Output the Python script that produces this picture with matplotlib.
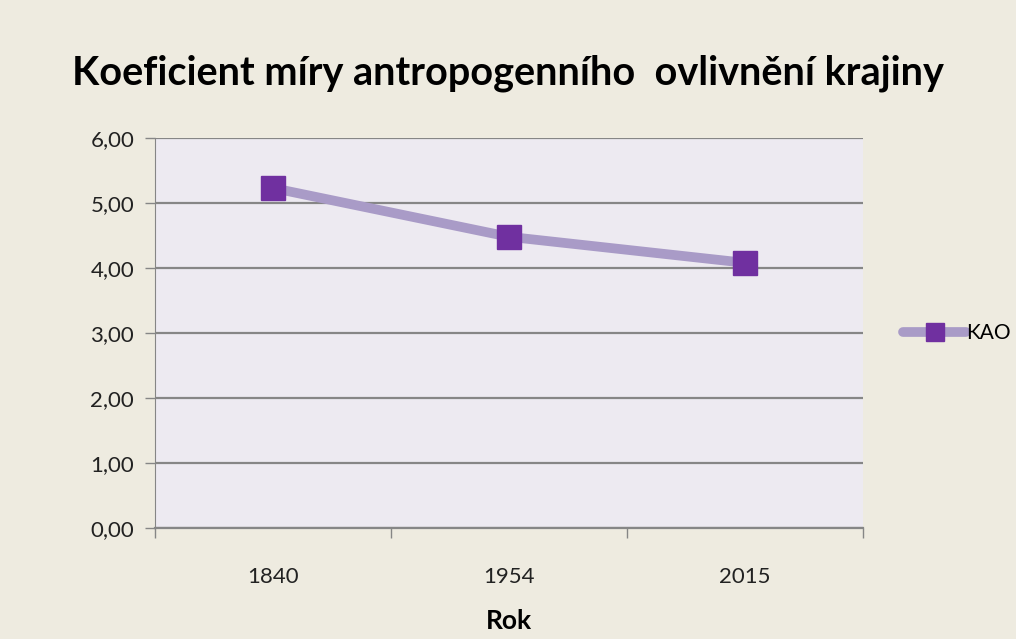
import matplotlib.pyplot as plt
from matplotlib.ticker import FixedLocator, FuncFormatter

# data
roky = ["1840", "1954", "2015"]
kao = [5.23, 4.48, 4.08]
y_ticks = [0, 1, 2, 3, 4, 5, 6]

plt.rcParams['font.family'] = ['Lato', 'DejaVu Sans']

fig = plt.figure(figsize=(10.16, 6.39), dpi=100)
fig.patch.set_facecolor("#EEEBE0")
ax = fig.add_axes([0.1526, 0.1737, 0.6969, 0.6103])
ax.set_facecolor("#EDEAF1")

x = list(range(len(roky)))
ax.plot(x, kao, color="#A99BC7", linewidth=7, solid_capstyle="round",
        marker="s", markersize=17, markerfacecolor="#7030A0",
        markeredgecolor="#7030A0", label="KAO", zorder=3)

ax.set_xlim(-0.5, len(roky) - 0.5)
ax.set_ylim(0, 6)
ax.set_yticks(y_ticks)
ax.yaxis.set_major_formatter(FuncFormatter(lambda v, p: f"{v:.2f}".replace(".", ",")))
ax.grid(axis="y", color="#868686", linewidth=1.6, zorder=1)
ax.set_axisbelow(True)

ax.set_xticks(x)
ax.set_xticklabels(roky)
ax.xaxis.set_minor_locator(FixedLocator([i - 0.5 for i in range(len(roky) + 1)]))
ax.tick_params(axis="x", which="major", length=0, pad=28, labelsize=16, colors="#222222")
ax.tick_params(axis="x", which="minor", length=7, width=1, color="#868686", direction="out")
ax.tick_params(axis="y", length=7, width=1, color="#868686", pad=8, labelsize=16, labelcolor="#222222")

for s in ["top", "right"]:
    ax.spines[s].set_visible(False)
ax.spines["left"].set_color("#868686")
ax.spines["bottom"].set_color("#868686")
ax.spines["bottom"].set_linewidth(1.6)

ax.set_xlabel("Rok", fontsize=19, fontweight="bold", labelpad=16)
fig.suptitle("Koeficient míry antropogenního  ovlivnění krajiny",
             x=0.5, y=0.915, fontsize=28.5, fontweight="bold")

ax.legend(loc="center left", bbox_to_anchor=(1.045, 0.5), frameon=False,
          fontsize=15, handlelength=3.0, handletextpad=0.0, markerscale=0.75,
          borderaxespad=0)

fig.savefig("out.png", dpi=100, facecolor=fig.get_facecolor())
